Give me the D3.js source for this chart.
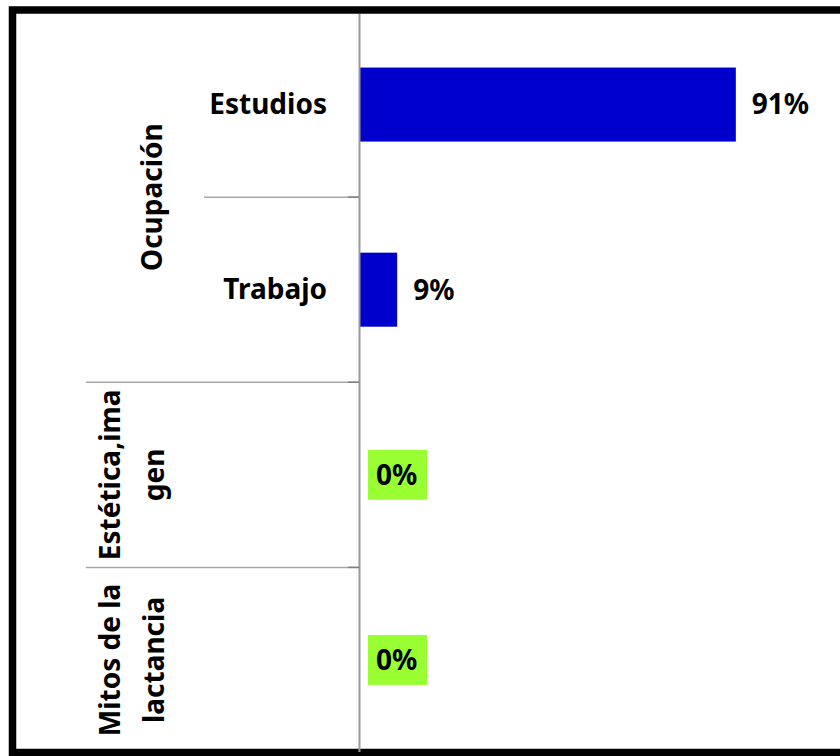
<!DOCTYPE html>
<html>
<head>
<meta charset="utf-8">
<script src="https://cdn.jsdelivr.net/npm/d3@7"></script>
<style>
  body { margin: 0; background: #fff; }
  text { font-family: "Noto Sans", sans-serif; font-weight: bold; fill: #000; }
</style>
</head>
<body>
<svg id="chart"></svg>
<script>
const subLabels = ["Estudios", "Trabajo", "", ""];
const values = [91, 9, 0, 0];
const valueLabels = ["91%", "9%", "0%", "0%"];
const groupLines = [["Ocupación"], ["Estética,ima", "gen"], ["Mitos de la", "lactancia"]];
const groupSpans = [2, 1, 1];

const width = 840;
const height = 756;
const fontSize = "28px";
const svg = d3.select("#chart").attr("width", width).attr("height", height);

const y = d3.scaleBand().domain(d3.range(values.length)).range([12, 752.5]);
const x = d3.scaleLinear().domain([0, 100]).range([360, 773]);
const barH = y.bandwidth() * 0.4;

// outer frame, right side runs off the picture
svg.append("rect")
  .attr("x", 12.5).attr("y", 10)
  .attr("width", 900).attr("height", 742.5)
  .attr("fill", "#fff").attr("stroke", "#000").attr("stroke-width", 7.5);

// bars
svg.append("g")
  .selectAll("rect")
  .data(values)
  .enter()
  .append("rect")
  .attr("x", x(0))
  .attr("y", (d, i) => y(i) + (y.bandwidth() - barH) / 2)
  .attr("width", (d) => x(d) - x(0))
  .attr("height", barH)
  .attr("fill", "#0000CC");

// value labels (zero values get a green box)
const lab = svg.append("g")
  .selectAll("g")
  .data(values)
  .enter()
  .append("g")
  .attr("transform", (d, i) => `translate(${x(d) + 16},${y(i) + y.bandwidth() / 2})`);

lab.filter((d) => d === 0)
  .append("rect")
  .attr("x", -8).attr("y", -25)
  .attr("width", 59).attr("height", 50)
  .attr("fill", "#99FF33");

lab.append("text")
  .attr("dy", "0.35em")
  .style("font-size", fontSize)
  .text((d, i) => valueLabels[i]);

// category axis line and separators
svg.append("line")
  .attr("x1", 359.5).attr("x2", 359.5)
  .attr("y1", 14).attr("y2", 752)
  .attr("stroke", "#9a9a9a").attr("stroke-width", 2);

let start = 0;
const groupStarts = groupSpans.map((s) => { const v = start; start += s; return v; });

d3.range(1, values.length).forEach((i) => {
  const isGroupEdge = groupStarts.includes(i);
  const yy = y(i);
  svg.append("line")
    .attr("x1", isGroupEdge ? 86 : 204).attr("x2", 359)
    .attr("y1", yy).attr("y2", yy)
    .attr("stroke", "#a6a6a6").attr("stroke-width", 1.5);
  svg.append("line")
    .attr("x1", 348).attr("x2", 359)
    .attr("y1", yy).attr("y2", yy)
    .attr("stroke", "#808080").attr("stroke-width", 1.5);
});

// sub category labels
svg.append("g")
  .selectAll("text")
  .data(subLabels)
  .enter()
  .append("text")
  .attr("x", 327)
  .attr("y", (d, i) => y(i) + y.bandwidth() / 2)
  .attr("dy", "0.35em")
  .attr("text-anchor", "end")
  .style("font-size", fontSize)
  .text((d) => d);

// group labels, rotated
groupLines.forEach((lines, gi) => {
  const g0 = groupStarts[gi];
  const cy = (y(g0) + y(g0 + groupSpans[gi] - 1) + y.bandwidth()) / 2;
  const xs = lines.length === 1 ? [152] : [110, 154];
  lines.forEach((t, li) => {
    svg.append("text")
      .attr("transform", `translate(${xs[li]},${cy}) rotate(-90)`)
      .attr("dy", "0.35em")
      .attr("text-anchor", "middle")
      .style("font-size", fontSize)
      .text(t);
  });
});
</script>
</body>
</html>
